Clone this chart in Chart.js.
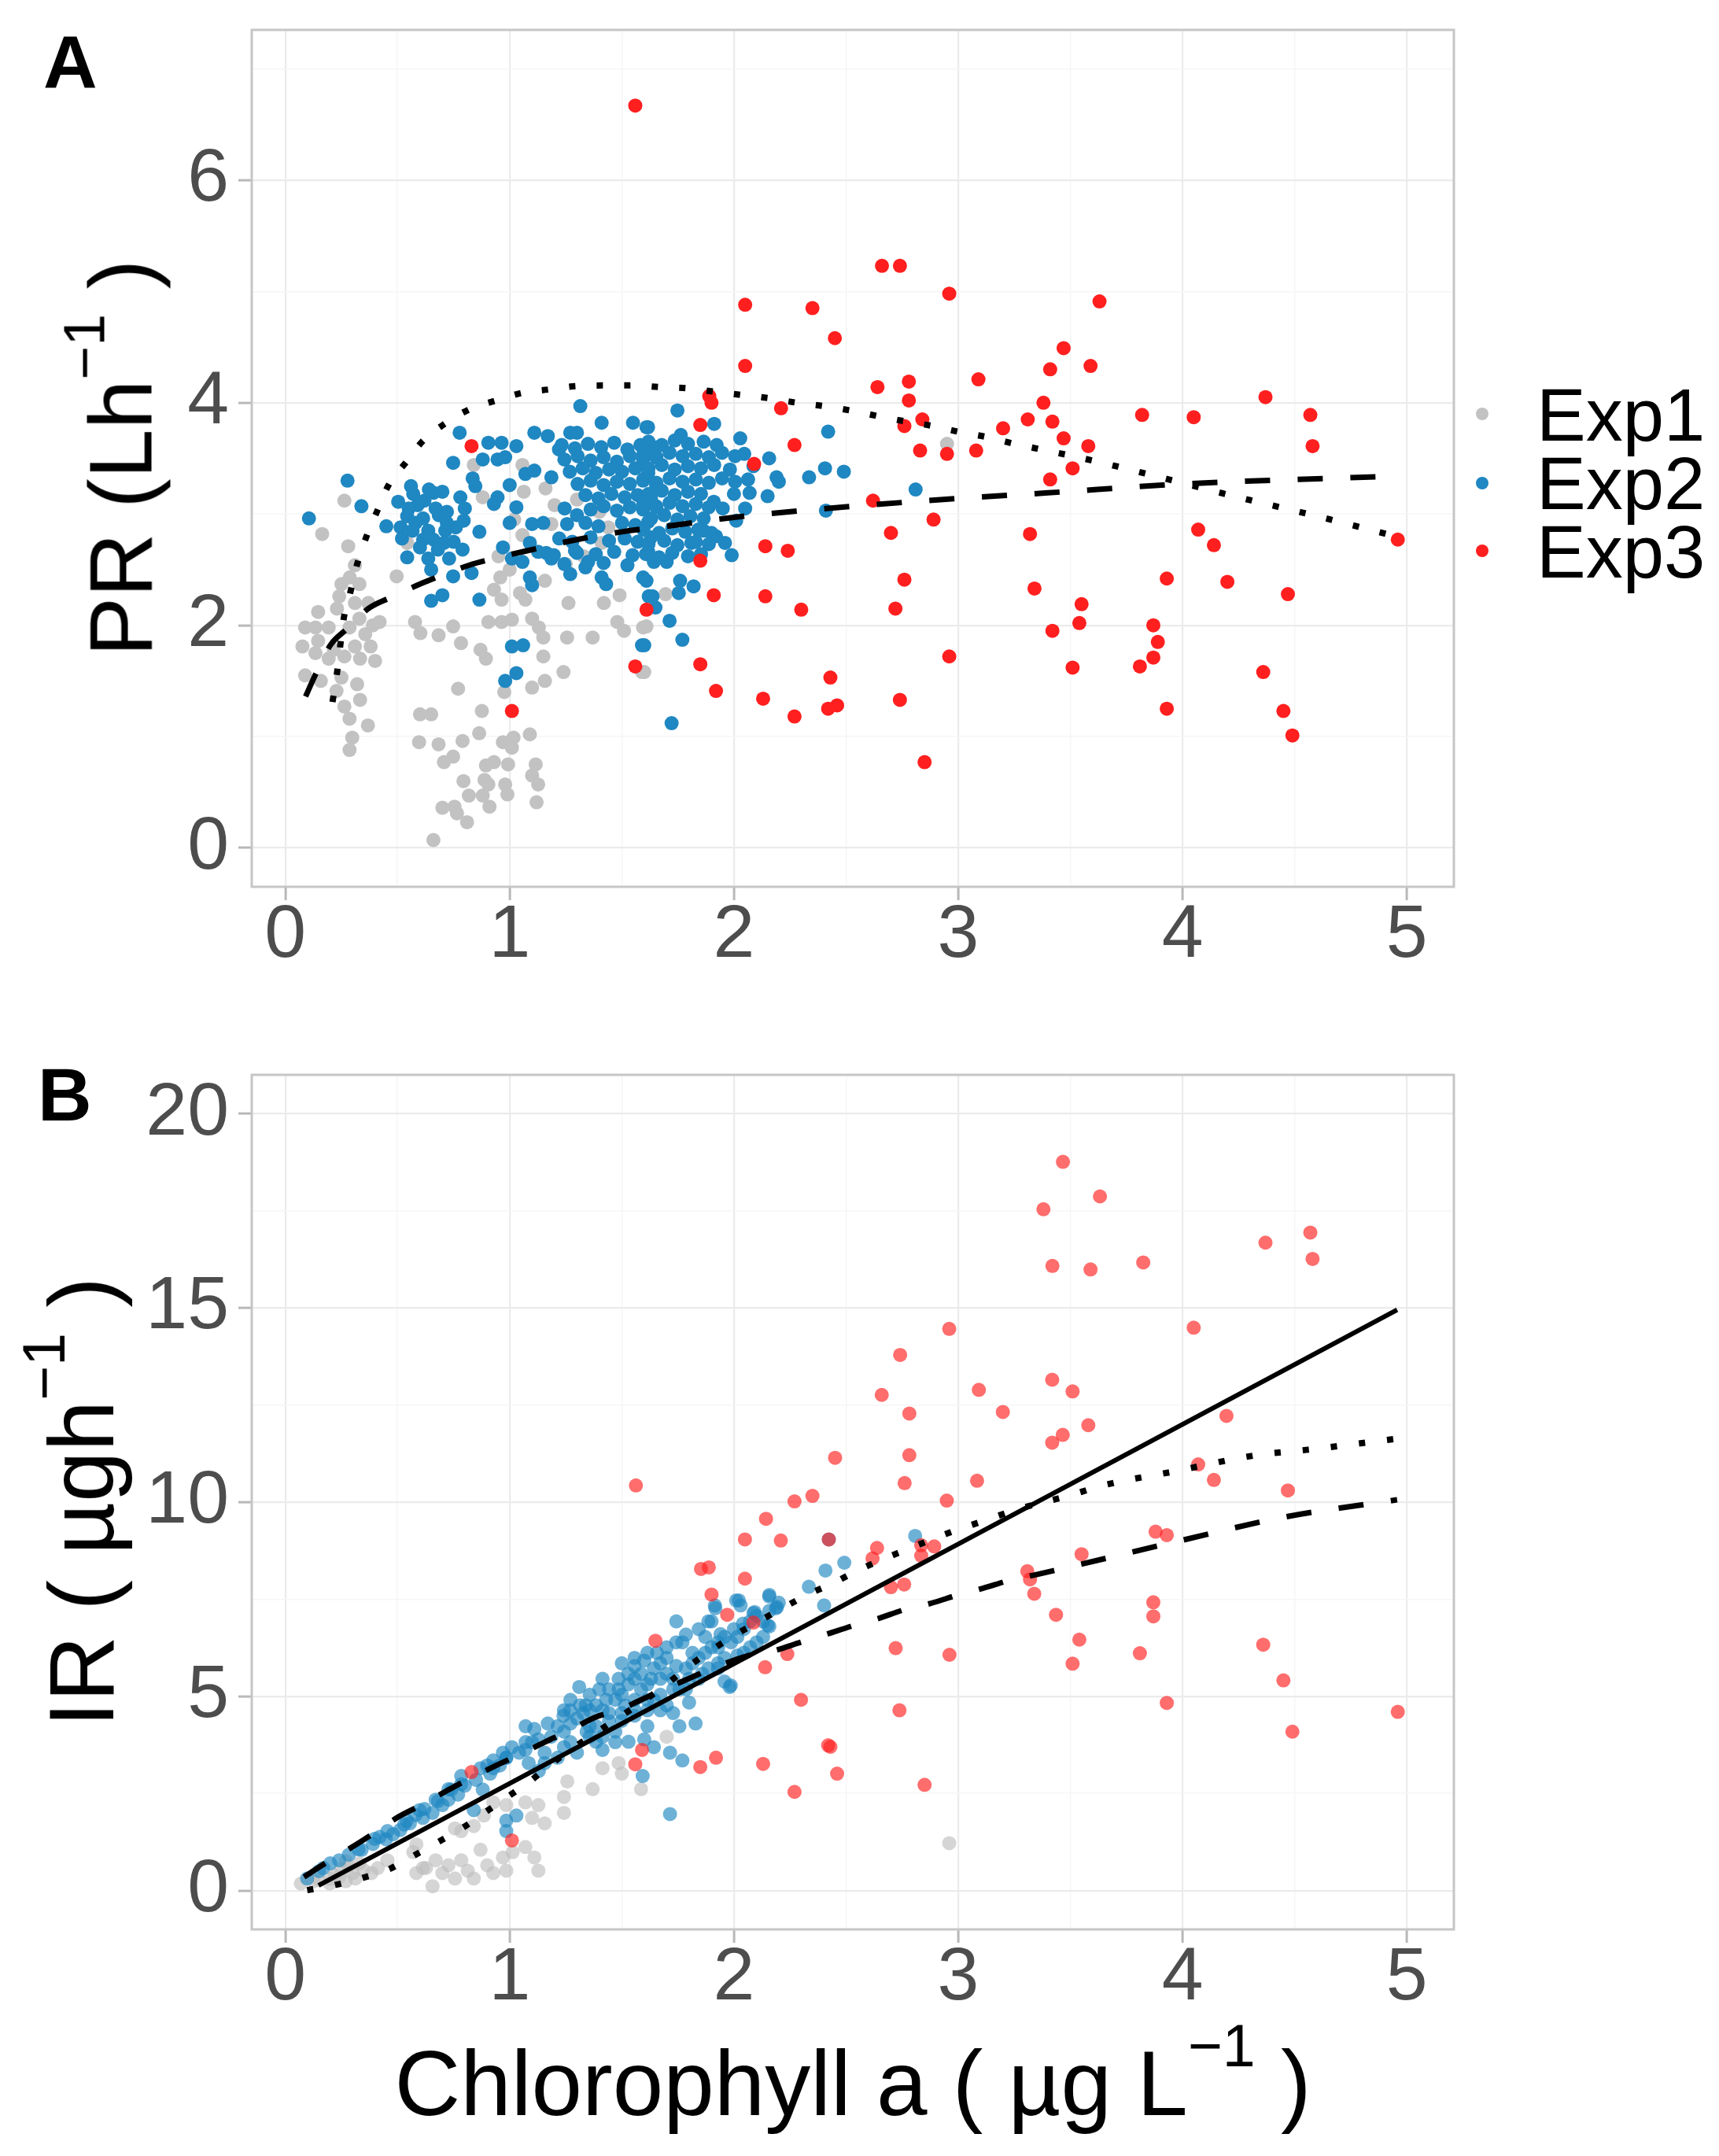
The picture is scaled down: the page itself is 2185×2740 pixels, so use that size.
<!DOCTYPE html>
<html><head><meta charset="utf-8">
<script src="https://cdn.jsdelivr.net/npm/chart.js@4.4.0/dist/chart.umd.min.js"></script>
<style>
html,body{margin:0;padding:0;background:#fff;}
#page{position:relative;width:2185px;height:2740px;overflow:hidden;background:#fff;font-family:'Liberation Sans',Arial,sans-serif;}
canvas{position:absolute;left:0;}
.t{position:absolute;white-space:nowrap;line-height:1;color:#000;}
.rot{position:absolute;width:0;height:0;}
.rot > div{position:absolute;left:0;top:0;white-space:nowrap;line-height:1;color:#000;transform:translate(-50%,-50%) rotate(-90deg);}
.sup{position:relative;font-size:0.65em;top:-0.82em;}
.dot{position:absolute;width:16px;height:16px;border-radius:50%;}
</style></head>
<body>
<div id="page">
<canvas id="cA" width="2185" height="1330" style="top:0px"></canvas>
<canvas id="cB" width="2185" height="1410" style="top:1330px"></canvas>
<div class="t" style="left:55px;top:31.6px;font-size:95px;font-weight:bold;">A</div>
<div class="t" style="left:48px;top:1343.6px;font-size:95px;font-weight:bold;">B</div>
<div class="rot" style="left:153.8px;top:582px;"><div style="font-size:113px;">PR (Lh<span class="sup">−1</span> )</div></div>
<div class="rot" style="left:103.8px;top:1909px;"><div style="font-size:116px;">IR ( µgh<span class="sup">−1</span> )</div></div>
<div class="t" style="left:320px;width:1528px;text-align:center;top:2589.8px;font-size:116px;">Chlorophyll a ( µg L<span class="sup">−1</span> )</div>
<div class="dot" style="left:1876px;top:518px;background:#c2c2c2;"></div>
<div class="dot" style="left:1876px;top:606px;background:#1f87c1;"></div>
<div class="dot" style="left:1876px;top:692px;background:#ff1f1f;"></div>
<div class="t" style="left:1953px;top:481.4px;font-size:94px;">Exp1</div>
<div class="t" style="left:1953px;top:568.4px;font-size:94px;">Exp2</div>
<div class="t" style="left:1953px;top:655.4px;font-size:94px;">Exp3</div>
</div>
<script>
// ---------- axis settings ----------
const xRange = [-0.15, 5.21];
const yRangeA = [-0.35, 7.35];
const yRangeB = [-1, 21];
const xTickLabels = ["0","1","2","3","4","5"];
const yTickLabelsA = ["0","2","4","6"];
const yTickLabelsB = ["0","5","10","15","20"];
const seriesNames = ["Exp1","Exp2","Exp3"];

// ---------- Panel A: PR vs Chl a ----------
const exp1PR = [[0.263,3.12],[0.164,2.82],[0.28,2.71],[0.31,2.54],[0.287,2.43],[0.25,2.37],[0.33,2.37],[0.24,2.26],[0.31,2.20],[0.37,2.20],[0.146,2.12],[0.23,2.15],[0.33,2.06],[0.39,2.00],[0.088,1.98],[0.134,1.98],[0.193,1.98],[0.286,1.98],[0.356,1.92],[0.076,1.81],[0.146,1.86],[0.216,1.78],[0.31,1.81],[0.38,1.81],[0.134,1.75],[0.193,1.70],[0.263,1.72],[0.333,1.70],[0.40,1.68],[0.088,1.55],[0.158,1.50],[0.25,1.53],[0.32,1.47],[0.228,1.41],[0.333,1.33],[0.263,1.27],[0.286,1.16],[0.368,1.10],[0.298,0.99],[0.286,0.88],[0.42,2.03],[0.496,2.44],[0.578,2.03],[0.602,1.93],[0.683,1.91],[0.748,1.99],[0.783,1.84],[0.543,2.74],[0.84,3.44],[0.88,3.15],[1.057,3.44],[1.063,3.20],[1.16,3.23],[1.20,3.08],[1.02,2.95],[1.057,2.81],[1.186,2.91],[1.30,3.13],[1.40,3.02],[1.44,2.88],[1.41,2.74],[0.958,2.43],[0.93,2.32],[0.964,2.23],[1.046,2.29],[1.07,2.23],[1.157,2.40],[1.262,2.20],[1.42,2.20],[1.49,2.27],[0.905,2.03],[0.964,2.03],[1.01,2.05],[1.10,2.06],[1.13,1.98],[1.15,1.89],[1.256,1.89],[1.37,1.89],[1.48,2.03],[1.51,1.95],[0.87,1.78],[0.894,1.70],[1.15,1.72],[1.24,1.58],[1.157,1.50],[1.10,1.44],[1.59,1.58],[1.595,1.98],[0.77,1.43],[0.976,1.40],[0.60,1.20],[0.65,1.20],[0.876,1.23],[0.596,0.95],[0.683,0.93],[0.79,0.96],[0.864,1.03],[0.97,0.95],[1.017,0.99],[1.09,1.02],[0.707,0.77],[0.748,0.82],[0.894,0.74],[0.93,0.77],[0.993,0.75],[1.116,0.75],[1.10,0.65],[0.794,0.60],[0.888,0.61],[0.905,0.57],[0.98,0.57],[0.99,0.48],[1.127,0.57],[0.818,0.47],[0.88,0.47],[1.12,0.41],[0.70,0.36],[0.754,0.37],[0.765,0.31],[0.91,0.37],[0.81,0.23],[0.66,0.07],[1.01,0.90],[1.695,2.28],[1.61,1.99],[1.60,1.58],[2.95,3.63],[0.95,2.62],[1.0,2.50],[1.25,2.55],[1.33,2.62]];

const exp2PR = [[0.105,2.96],[0.277,3.30],[0.339,3.07],[0.45,2.89],[0.503,3.11],[0.56,3.25],[0.543,2.98],[0.59,3.08],[0.614,2.96],[0.567,2.85],[0.637,2.85],[0.66,3.19],[0.70,3.20],[0.684,2.99],[0.72,3.02],[0.713,2.85],[0.66,2.77],[0.707,2.74],[0.614,2.77],[0.514,2.88],[0.777,3.73],[0.748,3.46],[0.80,3.05],[0.795,2.94],[0.76,2.88],[0.79,2.68],[0.73,2.60],[0.543,2.61],[0.637,2.60],[0.65,2.50],[0.748,2.44],[0.83,2.47],[0.65,2.22],[0.70,2.27],[0.865,2.23],[0.905,3.64],[0.964,3.64],[1.03,3.61],[0.88,3.49],[0.946,3.49],[0.98,3.51],[0.835,3.32],[0.847,3.25],[0.946,3.15],[0.93,3.09],[1.00,3.26],[0.865,2.84],[1.00,2.92],[1.03,3.06],[0.97,2.70],[1.07,3.36],[1.11,3.73],[1.17,3.70],[1.11,3.39],[1.186,3.33],[1.10,2.91],[1.15,2.92],[1.09,2.74],[1.01,2.60],[1.057,2.57],[1.09,2.43],[1.10,2.36],[1.01,1.81],[1.06,1.82],[1.03,1.57],[0.98,1.50],[1.22,3.58],[1.27,3.73],[1.30,3.73],[1.315,3.97],[1.41,3.82],[1.55,3.82],[1.61,3.78],[1.245,3.05],[1.30,2.99],[1.256,2.91],[1.163,2.65],[1.186,2.60],[1.27,2.46],[1.30,2.65],[1.35,2.57],[1.41,2.43],[1.43,2.37],[1.525,2.54],[1.595,2.43],[1.62,2.26],[1.65,2.16],[1.59,1.82],
[0.55,3.05],[0.58,2.92],[0.62,3.12],[0.67,3.05],[0.72,2.92],[0.60,2.70],[0.68,2.68],[0.75,2.75],[0.57,3.18],[0.64,3.22],[0.52,2.78],[0.78,3.15],
[1.748,3.93],[1.617,3.78],[1.912,3.81],[1.763,3.71],[2.028,3.68],[2.046,3.54],[2.157,3.50],[2.19,3.33],[2.20,3.29],[2.15,3.16],[2.00,3.18],[2.07,3.19],[2.335,3.33],[2.406,3.41],[2.49,3.38],[2.42,3.74],[2.41,3.03],[2.81,3.22],[2.05,3.05],[2.01,2.94],[1.95,3.05],[1.91,3.11],[1.96,2.74],[1.99,2.63],[1.92,2.80],[1.865,2.85],[1.81,2.74],[1.70,2.57],[1.643,2.57],[1.61,2.40],[1.637,2.26],[1.76,2.40],[1.754,2.29],[1.82,2.35],[1.713,2.04],[1.77,1.87],[1.60,1.82],[1.722,1.12],
[1.232,3.62],[1.291,3.59],[1.349,3.63],[1.408,3.60],[1.466,3.64],[1.525,3.58],[1.583,3.62],[1.641,3.60],
[1.244,3.49],[1.303,3.52],[1.361,3.48],[1.419,3.51],[1.478,3.47],[1.536,3.52],[1.595,3.49],[1.653,3.51],
[1.268,3.38],[1.326,3.41],[1.384,3.37],[1.443,3.40],[1.501,3.38],[1.560,3.41],[1.618,3.37],
[1.303,3.27],[1.361,3.30],[1.419,3.26],[1.478,3.29],[1.536,3.27],[1.595,3.30],[1.653,3.26],
[1.338,3.17],[1.396,3.14],[1.454,3.18],[1.513,3.15],[1.571,3.17],[1.630,3.14],
[1.361,3.04],[1.419,3.07],[1.478,3.03],[1.536,3.06],[1.595,3.04],[1.653,3.07],
[1.338,2.92],[1.396,2.89],[1.501,2.92],[1.560,2.90],[1.618,2.93],
[1.221,2.78],[1.279,2.75],[1.361,2.79],[1.443,2.76],[1.513,2.78],[1.571,2.75],[1.630,2.79],
[1.127,2.66],[1.197,2.63],[1.291,2.67],[1.384,2.64],[1.466,2.66],[1.548,2.63],[1.618,2.66],
[1.244,2.55],[1.338,2.52],[1.419,2.56],
[1.619,3.65],[1.678,3.62],[1.736,3.66],[1.795,3.63],[1.865,3.65],[1.923,3.62],
[1.596,3.54],[1.654,3.51],[1.713,3.55],[1.771,3.52],[1.83,3.54],[1.888,3.51],[1.947,3.55],[2.005,3.52],
[1.619,3.41],[1.678,3.44],[1.736,3.40],[1.795,3.43],[1.853,3.41],[1.912,3.44],[1.982,3.40],[2.087,3.43],
[1.596,3.31],[1.654,3.28],[1.713,3.32],[1.771,3.29],[1.83,3.31],[1.888,3.28],[1.947,3.32],[2.005,3.29],[2.063,3.31],
[1.619,3.18],[1.678,3.21],[1.736,3.17],[1.795,3.20],[1.853,3.18],
[1.596,3.09],[1.654,3.06],[1.713,3.10],[1.771,3.07],[1.83,3.09],[1.888,3.06],
[1.631,2.96],[1.689,2.99],[1.748,2.95],[1.806,2.98],[1.865,2.96],
[1.596,2.86],[1.666,2.83],[1.725,2.87],[1.783,2.84],[1.841,2.86],[1.90,2.83],
[1.619,2.73],[1.689,2.76],[1.748,2.72],[1.83,2.75],[1.888,2.73],
[1.608,2.64],[1.666,2.61],[1.725,2.65],[1.795,2.62],[1.853,2.64]];

const exp3PR = [[1.56,6.67],[2.05,4.88],[2.35,4.85],[2.45,4.58],[2.05,4.33],[3.41,4.30],[2.64,4.14],[2.78,4.19],[3.09,4.21],[2.78,4.02],[3.38,4.00],[1.89,4.06],[1.90,4.00],[2.21,3.95],[2.84,3.85],[3.31,3.85],[3.42,3.83],[1.85,3.80],[2.76,3.79],[3.20,3.77],[2.27,3.62],[2.83,3.57],[2.95,3.54],[3.08,3.57],[2.09,3.45],[3.41,3.31],[2.62,3.12],[2.89,2.95],[2.70,2.83],[3.32,2.82],[2.14,2.71],[2.24,2.67],[1.85,2.58],[2.76,2.41],[3.34,2.33],[1.91,2.27],[2.14,2.26],[2.30,2.14],[2.72,2.15],[1.61,2.14],[3.42,1.95],[2.96,1.72],[1.85,1.65],[2.43,1.53],[1.92,1.41],[2.13,1.34],[2.74,1.33],[2.42,1.25],[2.46,1.28],[2.27,1.18],[2.85,0.77],[2.66,5.23],[2.74,5.23],[2.96,4.98],[3.63,4.91],[3.47,4.49],[3.59,4.33],[4.37,4.05],[3.82,3.89],[4.05,3.87],[4.57,3.89],[3.47,3.68],[3.58,3.61],[4.58,3.61],[3.51,3.41],[4.07,2.86],[4.14,2.72],[4.96,2.77],[3.93,2.42],[4.20,2.39],[4.47,2.28],[3.55,2.19],[3.54,2.02],[3.87,2.00],[3.89,1.85],[3.87,1.71],[3.81,1.63],[3.51,1.62],[4.36,1.58],[3.93,1.25],[4.45,1.23],[4.49,1.01],[0.83,3.61],[1.56,1.63],[1.01,1.23]];

const dashedPR = [[0.09,1.36],[0.13,1.54],[0.20,1.82],[0.27,1.96],[0.37,2.15],[0.47,2.25],[0.60,2.37],[0.70,2.45],[0.82,2.54],[0.93,2.60],[1.10,2.68],[1.30,2.77],[1.50,2.84],[1.70,2.89],[2.00,2.97],[2.30,3.03],[2.60,3.08],[3.00,3.14],[3.40,3.19],[4.00,3.27],[4.50,3.31],[4.96,3.34]];
const dottedPR = [[0.21,1.31],[0.23,1.57],[0.26,2.06],[0.29,2.30],[0.32,2.55],[0.36,2.79],[0.41,3.03],[0.46,3.26],[0.54,3.47],[0.61,3.65],[0.71,3.81],[0.82,3.94],[0.94,4.02],[1.06,4.09],[1.18,4.12],[1.30,4.15],[1.43,4.155],[1.55,4.155],[1.67,4.14],[1.79,4.13],[1.91,4.10],[2.03,4.07],[2.16,4.04],[2.28,4.00],[2.40,3.97],[2.52,3.93],[2.64,3.88],[2.77,3.83],[2.89,3.79],[3.00,3.74],[3.13,3.69],[3.24,3.635],[3.37,3.58],[3.60,3.48],[3.90,3.33],[4.21,3.17],[4.60,2.98],[4.93,2.81]];

// ---------- Panel B: IR vs Chl a ----------
const exp1IR = [[0.069,0.18],[0.126,0.24],[0.198,0.18],[0.269,0.24],[0.312,0.31],[0.384,0.45],[0.412,0.58],[0.455,0.78],[0.584,1.19],[0.613,0.58],[0.656,0.11],[0.67,0.78],[0.70,0.45],[0.727,0.65],[0.756,0.31],[0.784,0.78],[0.813,0.51],[0.84,0.31],[0.87,1.05],[0.90,0.65],[0.927,0.45],[0.97,0.85],[0.985,0.51],[1.013,0.99],[1.07,1.12],[1.11,0.85],[1.128,0.51],[0.756,1.60],[0.84,1.66],[0.885,1.93],[0.927,2.27],[0.985,2.20],[1.07,2.27],[1.128,2.20],[1.10,1.87],[1.156,1.73],[1.242,2.00],[1.242,2.41],[1.257,2.81],[1.37,2.61],[1.414,3.15],[1.486,3.28],[1.50,3.01],[1.586,2.61],[1.70,3.96],[0.784,1.53],[0.627,0.58],[0.57,0.99],[0.584,0.45],[2.96,1.22],[0.15,0.28],[0.22,0.40],[0.25,0.55],[0.28,0.62],[0.30,0.45],[0.33,0.70],[0.35,0.52],[0.27,0.75],[0.20,0.30],[0.24,0.35]];

const exp2IR = [[0.097,0.31],[0.283,0.92],[0.34,1.05],[0.448,1.32],[0.512,1.56],[0.555,1.73],[0.613,1.87],[0.656,2.00],[0.70,2.20],[0.727,2.34],[0.77,2.47],[0.784,2.95],[0.84,2.07],[0.90,3.22],[0.913,3.01],[0.97,3.55],[1.01,3.69],[1.07,3.62],[1.11,4.16],[1.17,4.30],[1.085,3.28],[1.13,3.08],[1.156,3.28],[0.985,1.80],[1.03,1.93],[0.985,1.53],[1.24,4.50],[1.27,4.64],[1.31,5.24],[1.34,4.77],[1.357,4.23],[1.385,3.83],[1.414,5.45],[1.43,4.91],[1.486,5.18],[1.514,4.77],[1.50,4.37],[1.53,3.83],[1.557,5.99],[1.586,5.58],[1.614,6.12],[1.63,5.45],[1.643,4.91],[1.614,4.23],[1.60,3.89],[1.643,3.69],[1.593,2.95],[1.715,1.97],[1.715,3.55],[1.77,3.35],[1.70,5.99],[1.743,5.78],[1.743,6.93],[1.77,6.39],[1.815,6.12],[1.757,5.18],[1.80,4.84],[1.757,4.23],[1.829,4.30],[1.90,6.93],[1.915,7.34],[1.872,6.53],[1.94,6.60],[2.01,7.47],[2.03,7.34],[2.00,6.73],[2.04,6.87],[2.087,7.14],[2.158,7.61],[2.158,6.80],[2.20,7.41],[1.886,5.72],[1.958,5.99],[1.958,5.38],[1.986,5.28],[1.93,6.26],
[0.87,3.15],[0.927,3.35],[0.956,3.22],[0.985,3.42],[1.042,3.55],[1.071,3.82],[1.128,3.89],[1.185,3.96],[1.214,4.23],[1.242,4.09],[1.271,4.30],[1.30,4.43],[1.328,4.57],[1.357,4.64],[1.385,4.77],[1.414,4.64],[1.443,4.57],[1.471,4.91],[1.50,5.04],[1.529,5.31],[1.557,5.45],[1.557,4.91],[1.586,5.18],[1.614,5.31],[1.643,5.72],[1.672,5.85],[1.672,5.45],[1.70,5.58],[1.729,5.45],[1.786,5.72],[1.815,5.85],[1.843,5.99],[1.872,6.12],[1.90,6.26],[1.929,6.39],[1.958,6.53],[1.987,6.39],[2.015,6.53],[2.044,6.73],[2.072,6.93],[2.101,7.07],[2.13,6.93],[2.158,7.20],[2.187,7.27],[1.357,3.96],[1.414,3.96],[1.471,4.09],[1.557,4.50],[1.30,3.55],[1.242,3.69],[1.672,4.64],[1.729,4.57],[1.50,5.85],[1.614,4.64],[1.70,4.77],[1.786,5.18],[1.843,5.45],[1.929,5.85],[2.044,6.12],[2.101,6.39],
[0.15,0.50],[0.20,0.70],[0.39,1.20],[0.42,1.38],[0.48,1.45],[0.53,1.70],[0.58,1.95],[0.62,2.10],[0.68,2.30],[0.74,2.60],[0.80,2.70],[0.85,2.85],[0.88,2.60],
[1.242,4.64],[1.271,4.91],[1.314,4.77],[1.357,5.04],[1.40,5.18],[1.443,5.18],[1.486,5.45],[1.529,5.58],[1.557,5.78],[1.60,5.92],[1.657,6.12],[1.70,6.26],[1.743,6.39],[1.786,6.59],[1.843,6.73],[1.886,6.93],[1.271,3.82],[1.343,4.09],[1.385,4.23],[1.443,4.36],[1.50,4.57],[1.557,4.64],[1.614,4.91],[1.672,5.04],[1.729,5.18],[1.80,5.45],[1.858,5.58],[1.929,5.72],[2.015,6.05],[2.072,6.26],[2.13,6.53],[1.471,3.82],[1.414,3.62],[1.214,3.42],[1.156,3.55],[1.10,3.82],[1.071,4.23],[0.985,3.42],[0.927,3.15],[0.784,2.74],[0.727,2.61],[0.67,2.34],[0.598,2.07],[0.541,1.80],[0.455,1.53],[0.398,1.33],[0.326,1.06],[0.24,0.78],[0.169,0.58],
[2.423,9.04],[2.808,9.13],[2.492,8.44],[2.408,8.24],[2.334,7.82],[2.157,7.57],[2.192,7.30],[2.402,7.34],[2.022,7.47],[1.917,7.27],[2.092,7.17],[2.15,6.83],[1.981,5.24]];

const exp3IR = [[1.563,10.43],[1.65,6.43],[1.56,3.25],[1.59,3.62],[1.85,3.18],[1.92,3.42],[2.13,3.26],[0.83,3.05],[1.01,1.29],
[2.741,13.79],[2.659,12.76],[2.782,12.28],[3.092,12.89],[3.419,13.15],[3.199,12.32],[3.419,11.53],[3.466,11.73],[2.451,11.14],[2.782,11.21],[2.761,10.49],[3.084,10.55],[2.949,10.04],[2.27,10.02],[2.35,10.16],[2.143,9.57],[2.049,9.04],[2.209,9.01],[2.423,9.04],[1.853,8.28],[1.888,8.32],[2.049,8.03],[1.90,7.62],[1.97,7.10],[2.638,8.82],[2.618,8.55],[2.835,8.89],[2.893,8.86],[2.835,8.62],[2.70,7.81],[2.759,7.88],[3.308,8.22],[3.32,8.01],[3.339,7.64],[3.436,7.10],[2.087,6.90],[2.238,6.09],[2.139,5.75],[2.721,6.24],[2.961,6.07],[2.299,4.91],[2.738,4.64],
[3.467,18.76],[3.632,17.87],[3.38,17.54],[4.37,16.68],[4.57,16.94],[4.58,16.26],[3.42,16.08],[3.59,15.99],[3.825,16.17],[2.96,14.46],[4.05,14.49],[3.51,12.85],[4.196,12.22],[3.58,11.98],[4.07,10.97],[4.14,10.57],[4.47,10.30],[3.88,9.24],[3.93,9.15],[3.55,8.66],[3.87,7.42],[3.87,7.06],[3.54,6.46],[3.81,6.11],[3.51,5.84],[4.36,6.33],[4.45,5.41],[3.93,4.83],[4.49,4.09],[4.96,4.60],[2.42,3.74],[2.43,3.70],[2.46,3.01],[2.27,2.54],[2.85,2.72]];

const solidIR = [[0.148,0.13],[4.957,14.95]];
const dashedIR = [[0.083,0.35],[0.183,0.72],[0.298,1.12],[0.39,1.46],[0.505,1.90],[0.605,2.20],[0.72,2.57],[0.82,2.88],[0.94,3.22],[1.04,3.49],[1.156,3.82],[1.257,4.09],[1.385,4.47],[1.486,4.64],[1.586,4.91],[1.70,5.21],[2.063,6.05],[2.168,6.16],[2.297,6.39],[2.408,6.59],[2.537,6.83],[2.642,7.00],[2.764,7.24],[2.875,7.39],[3.004,7.62],[3.109,7.78],[3.238,8.00],[3.337,8.12],[3.963,8.97],[4.45,9.61],[4.957,10.06]];
const dottedIR = [[0.097,0.01],[0.219,0.14],[0.34,0.32],[0.462,0.55],[0.57,0.89],[0.684,1.26],[0.787,1.60],[0.887,2.00],[0.99,2.41],[1.09,2.81],[1.19,3.28],[1.693,5.28],[1.80,5.78],[1.90,6.19],[2.00,6.56],[2.11,6.93],[2.217,7.27],[2.326,7.61],[2.44,7.91],[2.552,8.24],[2.663,8.53],[2.776,8.79],[2.895,9.07],[3.013,9.32],[3.13,9.55],[3.24,9.77],[3.36,9.97],[3.477,10.14],[3.66,10.45],[3.963,10.79],[4.32,11.20],[4.56,11.35],[4.94,11.62]];

// ---------- helpers ----------
const pts = a => a.map(([x, y]) => ({x, y}));
const near = (v, step) => Math.abs(v / step - Math.round(v / step)) < 1e-6;
Chart.defaults.font.family = "'Liberation Sans', Arial, sans-serif";

const borderPlugin = {
  id: 'panelBorder',
  afterDraw(chart) {
    const a = chart.chartArea, c = chart.ctx;
    c.save(); c.strokeStyle = '#c6c6c6'; c.lineWidth = 3;
    c.strokeRect(a.left, a.top, a.right - a.left, a.bottom - a.top);
    c.restore();
  }
};

function scaleOpts(range, step, majorStep, labels, fit, isX) {
  return {
    type: 'linear', min: range[0], max: range[1],
    ticks: {
      stepSize: step, includeBounds: false, autoSkip: false, maxRotation: 0, minRotation: 0,
      padding: isX ? -11 : 12, color: '#4d4d4d', font: {size: 95},
      callback: v => {
        if (!near(v, majorStep)) return '';
        const s = String(Math.round(v));
        return labels.includes(s) ? s : '';
      }
    },
    grid: {
      color: c => (c.tick && near(c.tick.value, majorStep)) ? '#ebebeb' : '#f6f6f6',
      lineWidth: c => (c.tick && near(c.tick.value, majorStep)) ? 2.2 : 1.6,
      tickLength: 17, tickWidth: 3,
      tickColor: c => (c.tick && near(c.tick.value, majorStep)) ? '#b8b8b8' : 'rgba(0,0,0,0)'
    },
    border: {display: false},
    afterFit: s => {
      if (isX) s.height = fit; else s.width = fit;
      s.paddingTop = 0; s.paddingBottom = 0; s.paddingLeft = 0; s.paddingRight = 0;
    }
  };
}

function lineDs(data, dash, width) {
  return {data: pts(data), showLine: true, pointRadius: 0, borderColor: '#000', backgroundColor: '#000',
    borderWidth: width, borderDash: dash, borderCapStyle: 'butt', fill: false, cubicInterpolationMode: 'monotone'};
}
function ptDs(data, color, r) {
  return {data: pts(data), showLine: false, pointRadius: r, pointHoverRadius: r, pointBorderWidth: 0,
    pointBackgroundColor: color, backgroundColor: color, borderColor: color};
}

function makeChart(id, top, xh, yRange, yStep, yMajor, yLabels, datasets) {
  return new Chart(document.getElementById(id), {
    type: 'scatter',
    data: {datasets},
    options: {
      responsive: false, animation: false, devicePixelRatio: 1,
      layout: {padding: {left: 0, right: 337, top: top, bottom: 0}},
      plugins: {legend: {display: false}, tooltip: {enabled: false}},
      scales: {
        x: scaleOpts(xRange, 0.5, 1, xTickLabels, xh, true),
        y: scaleOpts(yRange, yStep, yMajor, yLabels, 320, false)
      }
    },
    plugins: [borderPlugin]
  });
}

makeChart('cA', 38, 203, yRangeA, 1, 2, yTickLabelsA, [
  lineDs(dashedPR, [32, 35], 7),
  lineDs(dottedPR, [8, 27], 8),
  ptDs(exp3PR, '#ff1f1f', 9),
  ptDs(exp2PR, '#1f87c1', 9),
  ptDs(exp1PR, '#c2c2c2', 9)
]);

makeChart('cB', 36, 288, yRangeB, 2.5, 5, yTickLabelsB, [
  lineDs(solidIR, [], 6),
  lineDs(dashedIR, [32, 35], 7),
  lineDs(dottedIR, [8, 28], 8),
  ptDs(exp3IR, 'rgba(255,31,31,0.65)', 9),
  ptDs(exp2IR, 'rgba(31,135,193,0.65)', 9),
  ptDs(exp1IR, 'rgba(190,190,190,0.65)', 9)
]);
</script>
</body></html>
